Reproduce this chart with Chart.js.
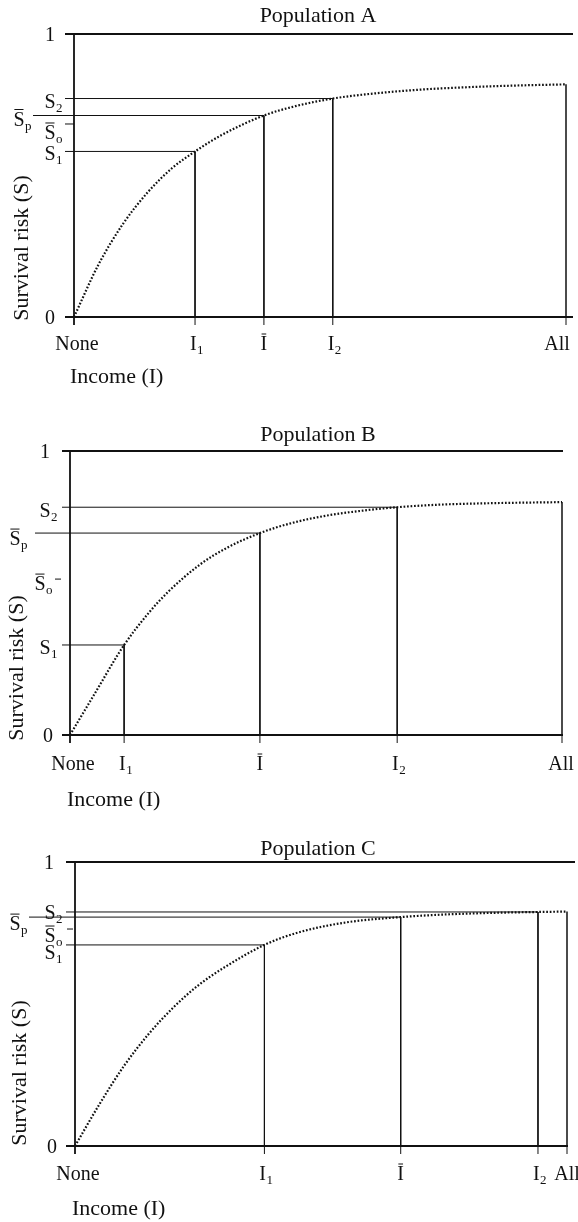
<!DOCTYPE html>
<html>
<head>
<meta charset="utf-8">
<script src="https://cdn.jsdelivr.net/npm/chart.js@4.4.1/dist/chart.umd.min.js"></script>
<style>
  html, body { margin: 0; padding: 0; background: #fff; }
  #wrap { position: relative; width: 578px; height: 1222px; overflow: hidden; }
  canvas { position: absolute; left: 0; }
</style>
</head>
<body>
<div id="wrap">
  <canvas id="chartA"></canvas>
  <canvas id="chartB"></canvas>
  <canvas id="chartC"></canvas>
</div>
<script>
// income runs from 0 (None) to 1 (All), survival from 0 to 1

const incomeA   = [0, 0.05, 0.1, 0.15, 0.2, 0.246, 0.3, 0.386, 0.45, 0.526, 0.6, 0.7, 0.8, 0.9, 1];
const survivalA = [0, 0.186, 0.33, 0.441, 0.527, 0.585, 0.643, 0.712, 0.745, 0.772, 0.788, 0.803, 0.812, 0.818, 0.822];
const markIncomeA = [0.246, 0.386, 0.526];     // I1, Ibar, I2
const levelsA     = [0.585, 0.712, 0.682, 0.772]; // S1, Sp, So, S2

const incomeB   = [0, 0.05, 0.11, 0.16, 0.2, 0.264, 0.32, 0.386, 0.45, 0.52, 0.6, 0.665, 0.75, 0.85, 1];
const survivalB = [0, 0.145, 0.317, 0.43, 0.505, 0.6, 0.66, 0.711, 0.746, 0.772, 0.791, 0.802, 0.811, 0.816, 0.82];
const markIncomeB = [0.11, 0.386, 0.665];
const levelsB     = [0.317, 0.711, 0.549, 0.802];

const incomeC   = [0, 0.05, 0.1, 0.15, 0.2, 0.25, 0.3, 0.385, 0.45, 0.55, 0.662, 0.75, 0.85, 0.941, 1];
const survivalC = [0, 0.148, 0.283, 0.395, 0.488, 0.565, 0.625, 0.708, 0.75, 0.787, 0.806, 0.815, 0.821, 0.824, 0.8255];
const markIncomeC = [0.385, 0.662, 0.941];
const levelsC     = [0.708, 0.806, 0.764, 0.824];

const xTickText = ['None', 'I', 'I', 'I', 'All'];
const xTickSub  = ['', '1', '', '2', ''];
const xTickBar  = [false, false, true, false, false];
const yTickSub  = ['1', 'p', 'o', '2'];
const yTickBar  = [false, true, true, false];

const FONT = '"Liberation Serif", "Times New Roman", serif';
const INK = '#111';

function drawSymbol(ctx, base, sub, bar, x, y, align) {
  ctx.font = '20px ' + FONT;
  const wBase = ctx.measureText(base).width;
  ctx.font = '13px ' + FONT;
  const wSub = sub ? ctx.measureText(sub).width + 1 : 0;
  const total = wBase + wSub;
  const left = align === 'right' ? x - total : align === 'center' ? x - total / 2 : x;
  const baseline = y + 7;
  ctx.textAlign = 'left';
  ctx.textBaseline = 'alphabetic';
  ctx.fillStyle = INK;
  ctx.font = '20px ' + FONT;
  ctx.fillText(base, left, baseline);
  if (bar) {
    ctx.beginPath();
    ctx.lineWidth = 1;
    ctx.moveTo(left + 1, baseline - 16);
    ctx.lineTo(left + wBase - 1, baseline - 16);
    ctx.stroke();
  }
  if (sub) {
    ctx.font = '13px ' + FONT;
    ctx.fillText(sub, left + wBase + 0.5, baseline + 4);
  }
}

const frame = p => ({
  id: 'frame',
  afterDraw(chart) {
    const { ctx, scales: { x, y } } = chart;
    const X = v => x.getPixelForValue(v);
    const Y = v => y.getPixelForValue(v);
    const t = p.top;
    ctx.save();
    ctx.strokeStyle = INK;

    // axes and top line
    ctx.lineWidth = 1.8;
    ctx.beginPath();
    ctx.moveTo(X(0), Y(1)); ctx.lineTo(X(0), Y(0) + 8);
    ctx.moveTo(X(0) - p.tick, Y(1)); ctx.lineTo(p.topRight, Y(1));
    ctx.moveTo(X(0) - p.tick, Y(0)); ctx.lineTo(p.bottomRight, Y(0));
    ctx.stroke();

    // tick marks
    ctx.lineWidth = 1;
    ctx.beginPath();
    const [s1, sp, so, s2] = p.levels;
    [s1, s2].forEach(v => { ctx.moveTo(X(0) - p.tick, Y(v)); ctx.lineTo(X(0), Y(v)); });
    ctx.moveTo(p.spLeft, Y(sp)); ctx.lineTo(X(0), Y(sp));
    ctx.moveTo(p.soTick[0], Y(so)); ctx.lineTo(p.soTick[1], Y(so));
    p.marks.concat([1]).forEach(v => { ctx.moveTo(X(v), Y(0)); ctx.lineTo(X(v), Y(0) + 8); });
    ctx.stroke();

    // y tick labels
    drawSymbol(ctx, '1', '', false, p.oneX, Y(1), 'center');
    drawSymbol(ctx, '0', '', false, p.zeroX, Y(0), 'center');
    p.levels.forEach((v, k) => {
      drawSymbol(ctx, 'S', yTickSub[k], yTickBar[k], p.yLabelRight[k], Y(v) + p.yLabelDy[k], 'right');
    });

    // x tick labels
    const xs = [0].concat(p.marks, [1]);
    xs.forEach((v, k) => {
      drawSymbol(ctx, xTickText[k], xTickSub[k], xTickBar[k], X(v) + p.xLabelDx[k], Y(0) + p.xLabelDy, 'center');
    });

    // titles
    ctx.fillStyle = INK;
    ctx.font = '22px ' + FONT;
    ctx.textAlign = 'center';
    ctx.textBaseline = 'middle';
    ctx.fillText(p.title, p.titleX, p.titleY - t);
    ctx.textAlign = 'left';
    ctx.fillText('Income (I)', p.incomeX, p.incomeY - t);
    ctx.translate(p.survX, p.survY - t);
    ctx.rotate(-Math.PI / 2);
    ctx.textAlign = 'center';
    ctx.fillText('Survival risk (S)', 0, 0);
    ctx.restore();
  }
});

function makePanel(id, income, survival, marks, levels, p) {
  const canvas = document.getElementById(id);
  canvas.width = 578;
  canvas.height = p.height;
  canvas.style.top = p.top + 'px';
  p.marks = marks;
  p.levels = levels;
  const [s1, sp, , s2] = levels;
  const [i1, ib, i2] = marks;
  const end = survival[survival.length - 1];
  const seg = (pts, extra) => Object.assign({
    data: pts, showLine: true, pointRadius: 0, borderColor: INK,
    borderWidth: 1, fill: false, clip: false
  }, extra || {});

  new Chart(canvas, {
    type: 'scatter',
    data: {
      datasets: [
        seg([{ x: 0, y: s1 }, { x: i1, y: s1 }, { x: i1, y: 0 }]),
        seg([{ x: 0, y: sp }, { x: ib, y: sp }, { x: ib, y: 0 }]),
        seg([{ x: 0, y: s2 }, { x: i2, y: s2 }, { x: i2, y: 0 }]),
        seg([{ x: 1, y: end }, { x: 1, y: 0 }], { borderWidth: 1.5 }),
        seg(income.map((v, k) => ({ x: v, y: survival[k] })), {
          borderDash: [1.7, 1.8], borderWidth: 2.2, cubicInterpolationMode: 'monotone'
        })
      ]
    },
    options: {
      responsive: false,
      animation: false,
      layout: {
        padding: {
          left: p.axisX, right: 578 - p.rightX,
          top: p.y1 - p.top, bottom: p.top + p.height - p.y0
        }
      },
      plugins: { legend: { display: false }, tooltip: { enabled: false }, title: { display: false } },
      scales: {
        x: { type: 'linear', min: 0, max: 1, display: false },
        y: { type: 'linear', min: 0, max: 1, display: false }
      }
    },
    plugins: [frame(p)]
  });
}

makePanel('chartA', incomeA, survivalA, markIncomeA, levelsA, {
  title: 'Population A', top: 0, height: 400,
  axisX: 74, rightX: 566, y1: 34, y0: 317, topRight: 573, bottomRight: 573,
  tick: 9, spLeft: 33, soTick: [65, 74],
  oneX: 50, zeroX: 50, yLabelRight: [63, 32, 63, 63], yLabelDy: [2, 3, 8, 2],
  xLabelDx: [3, 2, 0, 2, -9], xLabelDy: 26,
  titleX: 318, titleY: 16, incomeX: 70, incomeY: 377, survX: 22, survY: 248
});

makePanel('chartB', incomeB, survivalB, markIncomeB, levelsB, {
  title: 'Population B', top: 400, height: 420,
  axisX: 70, rightX: 562, y1: 451, y0: 735, topRight: 563, bottomRight: 563,
  tick: 8, spLeft: 35, soTick: [55, 61],
  oneX: 45, zeroX: 48, yLabelRight: [58, 28, 53, 58], yLabelDy: [2, 5, 4, 3],
  xLabelDx: [3, 2, 0, 2, -1], xLabelDy: 28,
  titleX: 318, titleY: 435, incomeX: 67, incomeY: 800, survX: 17, survY: 668
});

makePanel('chartC', incomeC, survivalC, markIncomeC, levelsC, {
  title: 'Population C', top: 820, height: 402,
  axisX: 75, rightX: 567, y1: 862, y0: 1146, topRight: 575, bottomRight: 568,
  tick: 9, spLeft: 29, soTick: [67, 73],
  oneX: 49, zeroX: 52, yLabelRight: [63, 28, 63, 63], yLabelDy: [7, 6, 6, 0],
  xLabelDx: [3, 2, 0, 2, 0], xLabelDy: 27,
  titleX: 318, titleY: 849, incomeX: 72, incomeY: 1209, survX: 20, survY: 1073
});
</script>
</body>
</html>
